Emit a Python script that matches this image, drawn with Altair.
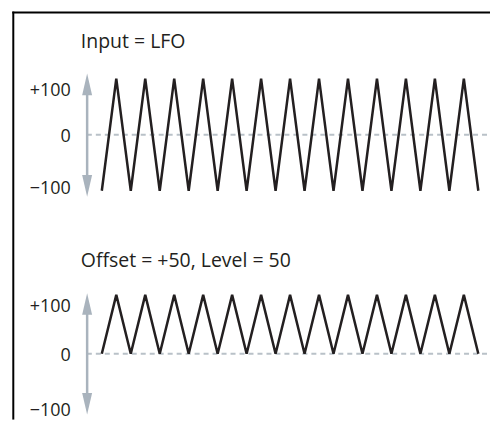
import altair as alt
import pandas as pd

# ---- data ----
phase = [0, 0.5, 1, 1.5, 2, 2.5, 3, 3.5, 4, 4.5, 5, 5.5, 6, 6.5,
         7, 7.5, 8, 8.5, 9, 9.5, 10, 10.5, 11, 11.5, 12, 12.5, 13]
input_lfo = [-100, 100, -100, 100, -100, 100, -100, 100, -100, 100, -100, 100, -100, 100,
             -100, 100, -100, 100, -100, 100, -100, 100, -100, 100, -100, 100, -100]
output_wave = [0, 100, 0, 100, 0, 100, 0, 100, 0, 100, 0, 100, 0, 100,
               0, 100, 0, 100, 0, 100, 0, 100, 0, 100, 0, 100, 0]
panel_titles = ["Input = LFO", "Offset = +50, Level = 50"]
tick_values = [100, 0, -100]
tick_labels = ["+100", "0", "\u2212100"]

# ---- styles / layout ----
W = 483
H1 = 206
H2 = 206
X_RANGE = [94, 471.3]
INK = "#231f20"
ARROW = "#a9b3bd"
DASH = "#b9c1c8"
FONT = "Open Sans"
TICK_DY = [17, 7, 3]
UP = "M0,-1L0.46,1L-0.46,1Z"
DOWN = "M0,1L0.46,-1L-0.46,-1Z"


def one_row(**kw):
    return pd.DataFrame({k: [v] for k, v in kw.items()} or {"k": [0]})


def panel(values, title, y_range, title_y, arrow, height, frame_top):
    df = pd.DataFrame({"phase": phase, "value": values})
    yscale = alt.Scale(domain=[-100, 100], range=y_range)
    xscale = alt.Scale(domain=[0, 13], range=X_RANGE)

    wave = alt.Chart(df).mark_line(color=INK, strokeWidth=2.5).encode(
        x=alt.X("phase:Q", scale=xscale, axis=None),
        y=alt.Y("value:Q", scale=yscale, axis=None),
    )
    zero = alt.Chart(one_row(v=0)).mark_rule(
        color=DASH, strokeWidth=2, strokeDash=[5, 4]
    ).encode(x=alt.value(79), x2=alt.value(480), y=alt.Y("v:Q", scale=yscale, axis=None))

    up_tip, up_base, down_base, down_tip = arrow
    shaft = alt.Chart(one_row(k=0)).mark_rule(color=ARROW, strokeWidth=2.5).encode(
        x=alt.value(79.3), y=alt.value(up_base - 2), y2=alt.value(down_base + 2)
    )
    head_up = alt.Chart(one_row(k=0)).mark_point(
        shape=UP, size=(up_base - up_tip) ** 2, filled=True, color=ARROW, opacity=1, strokeWidth=0
    ).encode(x=alt.value(79.3), y=alt.value((up_tip + up_base) / 2))
    head_down = alt.Chart(one_row(k=0)).mark_point(
        shape=DOWN, size=(down_tip - down_base) ** 2, filled=True, color=ARROW, opacity=1, strokeWidth=0
    ).encode(x=alt.value(79.3), y=alt.value((down_tip + down_base) / 2))

    ttl = alt.Chart(one_row(t=title)).mark_text(
        align="left", baseline="alphabetic", font=FONT, fontSize=19.5, color=INK
    ).encode(x=alt.value(73), y=alt.value(title_y), text="t:N")

    labels = []
    for v, lab, dy in zip(tick_values, tick_labels, TICK_DY):
        labels.append(
            alt.Chart(one_row(v=v, lab=lab)).mark_text(
                align="right", baseline="alphabetic", font=FONT, fontSize=18, color=INK, dy=dy
            ).encode(x=alt.value(63), y=alt.Y("v:Q", scale=yscale, axis=None), text="lab:N")
        )

    layers = [zero, shaft, head_up, head_down, wave, ttl] + labels
    left = alt.Chart(one_row(k=0)).mark_rule(color="#000", strokeWidth=2).encode(
        x=alt.value(5.3), y=alt.value(frame_top - 1 if frame_top is not None else 0), y2=alt.value(height)
    )
    layers.append(left)
    if frame_top is not None:
        top = alt.Chart(one_row(k=0)).mark_rule(color="#000", strokeWidth=2).encode(
            x=alt.value(4.3), x2=alt.value(W), y=alt.value(frame_top)
        )
        layers.append(top)
    return alt.layer(*layers).properties(width=W, height=height)


p1 = panel(input_lfo, panel_titles[0], [182.7, 70.3], 39.3, (65.3, 87, 167, 188.7), H1, 4.2)
p2 = panel(output_wave, panel_titles[1], [199, 81], 52.7, (79.3, 101, 179.3, 201), H2, None)

chart = alt.vconcat(p1, p2, spacing=0, bounds="flush").properties(
    padding=0, background="white"
).configure_view(strokeWidth=0)

chart.save("out.html", embed_options={"renderer": "svg", "actions": False})
